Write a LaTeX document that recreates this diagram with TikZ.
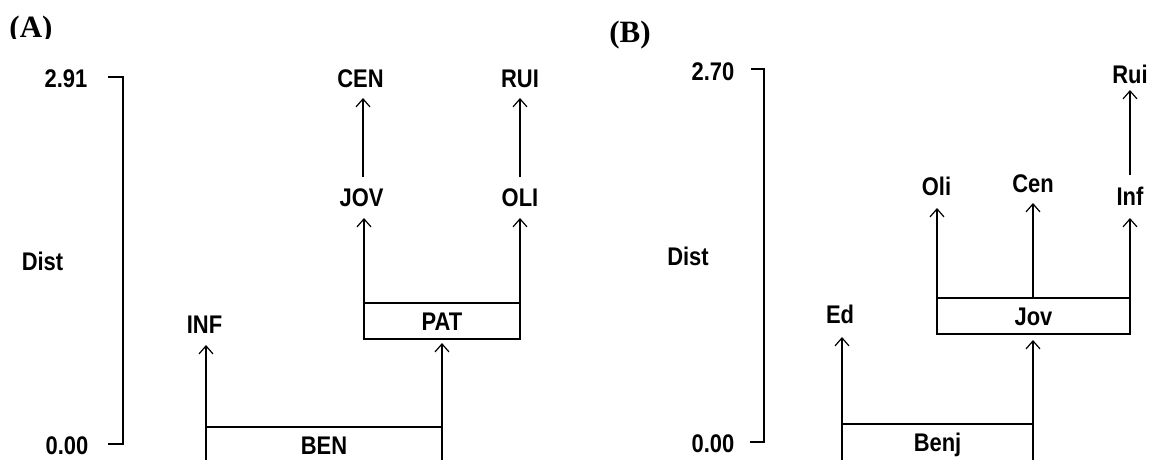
\documentclass[tikz,border=0pt]{standalone}
\usepackage{fontspec}
\usetikzlibrary{arrows.meta}
\newfontfamily\labfont[FakeStretch=0.86]{Liberation Sans}
\newfontfamily\serfont{Liberation Serif}
\tikzset{
  lab/.style={font=\labfont\bfseries\fontsize{25.5}{25.5}\selectfont, inner sep=0pt, anchor=base},
  panel/.style={font=\serfont\bfseries\fontsize{31}{31}\selectfont, inner sep=0pt, anchor=base},
  boxnode/.style={draw, line width=1.6pt, inner sep=0pt, outer sep=0pt,
    font=\labfont\bfseries\fontsize{25.5}{25.5}\selectfont, text height=18pt, text depth=0pt},
  ln/.style={line width=1.6pt},
  arr/.style={line width=1.6pt, -{Straight Barb[length=8pt,width=14pt,line width=1.2pt]}},
}
\begin{document}
\begin{tikzpicture}[x=1pt,y=-1pt]
\clip (0,0) rectangle (1155,459);
\fill[white] (0,0) rectangle (1155,459);

% ---------------- Panel (A) ----------------
\begin{scope}
  \clip (0,0) rectangle (100,38);
  \node[panel] (pA) at (31,37) {(A)};
\end{scope}
\node[lab] (A291) at (66,87) {2.91};
\node[lab] (A000) at (67,454) {0.00};
\node[lab] (Adist) at (42.5,270) {Dist};
\draw[ln] (108,77) -- (123,77) -- (123,444) -- (108,444);

\node[boxnode, minimum width=236pt, minimum height=36pt] (BEN) at (324,445) {BEN};
\node[boxnode, minimum width=156pt, minimum height=36pt] (PAT) at (442,321) {PAT};

\node[lab] (INF) at (204.5,333) {INF};
\node[lab] (JOV) at (361.5,206) {JOV};
\node[lab] (OLI) at (520,206) {OLI};
\node[lab] (CEN) at (360.5,87) {CEN};
\node[lab] (RUI) at (520,87) {RUI};

\coordinate (tINF) at (206,345);
\coordinate (tPAT) at (442,343);
\coordinate (tJOV) at (364,218);
\coordinate (tOLI) at (520,218);
\coordinate (sJOV) at (363,177);
\coordinate (tCEN) at (363,98);
\coordinate (sOLI) at (520,177);
\coordinate (tRUI) at (520,98);

\draw[arr] (BEN.north west) -- (tINF);
\draw[arr] (BEN.north east) -- (tPAT);
\draw[arr] (PAT.north west) -- (tJOV);
\draw[arr] (PAT.north east) -- (tOLI);
\draw[arr] (sJOV) -- (tCEN);
\draw[arr] (sOLI) -- (tRUI);

% ---------------- Panel (B) ----------------
\node[panel] (pB) at (630,42) {(B)};
\node[lab] (B270) at (713,80) {2.70};
\node[lab] (B000) at (713,452) {0.00};
\node[lab] (Bdist) at (688,265) {Dist};
\draw[ln] (751,69) -- (764,69) -- (764,442) -- (750,442);

\node[boxnode, minimum width=191pt, minimum height=38pt, text depth=2pt] (Benj) at (937.5,443) {Benj};
\node[boxnode, minimum width=193pt, minimum height=36pt] (Jov) at (1033.5,316) {Jov};

\node[lab] (Ed) at (840,323) {Ed};
\node[lab] (Oli) at (936.5,195) {Oli};
\node[lab] (Cen) at (1033,192) {Cen};
\node[lab] (Inf) at (1130,205) {Inf};
\node[lab] (Rui) at (1130,83) {Rui};

\coordinate (tEd) at (842,337);
\coordinate (tJov) at (1033,340);
\coordinate (tOli) at (937,208);
\coordinate (sCen) at (1033,298);
\coordinate (tCen) at (1033,203);
\coordinate (tInf) at (1130,218);
\coordinate (sInf) at (1130,175);
\coordinate (tRui) at (1130,90);

\draw[arr] (Benj.north west) -- (tEd);
\draw[arr] (Benj.north east) -- (tJov);
\draw[arr] (Jov.north west) -- (tOli);
\draw[arr] (sCen) -- (tCen);
\draw[arr] (Jov.north east) -- (tInf);
\draw[arr] (sInf) -- (tRui);
\end{tikzpicture}
\end{document}
